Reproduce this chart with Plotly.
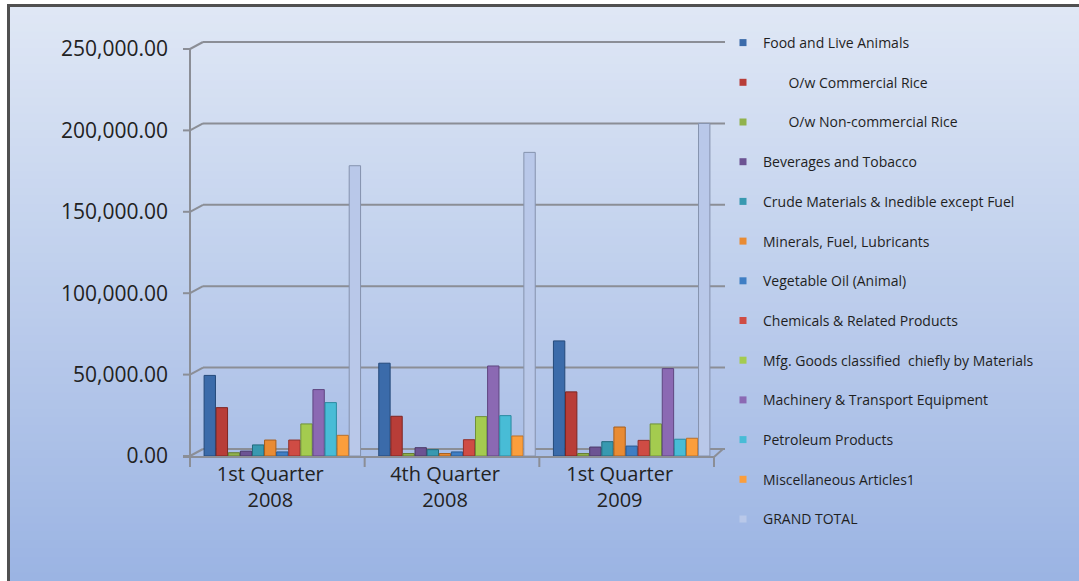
import plotly.graph_objects as go

# ---- data -------------------------------------------------------------
quarters = ["1st Quarter<br>2008", "4th Quarter<br>2008", "1st Quarter<br>2009"]

series_names = [
    "Food and Live Animals",
    "\u00a0\u00a0\u00a0\u00a0\u00a0\u00a0\u00a0O/w Commercial Rice",
    "\u00a0\u00a0\u00a0\u00a0\u00a0\u00a0\u00a0O/w Non-commercial Rice",
    "Beverages and Tobacco",
    "Crude Materials & Inedible except Fuel",
    "Minerals, Fuel, Lubricants",
    "Vegetable Oil (Animal)",
    "Chemicals & Related Products",
    "Mfg. Goods classified  chiefly by Materials",
    "Machinery & Transport Equipment",
    "Petroleum Products",
    "Miscellaneous Articles1",
    "GRAND TOTAL",
]

food_live_animals = [49500, 57000, 70700]
commercial_rice = [29700, 24400, 39400]
non_commercial_rice = [2000, 1500, 1500]
beverages_tobacco = [3000, 5100, 5500]
crude_materials = [6800, 3900, 8800]
minerals_fuel = [9800, 1500, 17800]
vegetable_oil = [2500, 2500, 6100]
chemicals = [9800, 10000, 9600]
mfg_goods = [19700, 24200, 19700]
machinery = [40800, 55300, 53700]
petroleum = [32800, 24800, 10300]
miscellaneous = [12700, 12300, 10900]
grand_total = [178300, 186500, 204300]

y_ticks = [0, 50000, 100000, 150000, 200000, 250000]

series_values = [
    food_live_animals, commercial_rice, non_commercial_rice, beverages_tobacco,
    crude_materials, minerals_fuel, vegetable_oil, chemicals, mfg_goods,
    machinery, petroleum, miscellaneous, grand_total,
]

fill_colors = [
    "#3b6baa", "#b83d38", "#91b24c", "#6c5393", "#3899b0", "#e98b33",
    "#3f7ec4", "#cf4c44", "#a4cb4f", "#8b69b3", "#48bcd6", "#fb9e3c", "#b9c8e9",
]
edge_colors = [
    "#24497a", "#7e2522", "#647c30", "#4a3866", "#226a7c", "#a65e1c",
    "#285a92", "#902f29", "#70903a", "#5f4680", "#2b8aa0", "#b9702a", "#8592ad",
]

# ---- geometry (pixels) ---------------------------------------------------
W, H = 1079, 581
PL, PR, PT, PB = 195, 719, 49, 456
YMAX = 250000
DEPTH_X, DEPTH_Y = 13, 7      # 3-D wall offset
FRONT_SHIFT = -5              # front edge of the floor relative to bars


def fx(px):
    return (px - PL) / (PR - PL)


def fy(py):
    return (PB - py) / (PB - PT)


def vy(v):
    return PB - v / YMAX * (PB - PT)


shapes = []

# chart-area gradient background
top_rgb = (223, 231, 245)
bot_rgb = (155, 180, 227)
y_start, y_end, n_strips = 7, H, 70
for i in range(n_strips):
    t = i / (n_strips - 1)
    c = "rgb(%d,%d,%d)" % tuple(round(a + (b - a) * t) for a, b in zip(top_rgb, bot_rgb))
    ya = y_start + (y_end - y_start) * i / n_strips
    yb = min(y_start + (y_end - y_start) * (i + 1) / n_strips + 1, H)
    shapes.append(dict(type="rect", xref="paper", yref="paper", layer="below",
                       x0=fx(9), x1=fx(W), y0=fy(yb), y1=fy(ya),
                       line=dict(width=0, color=c), fillcolor=c))

# outer frame (top and left edges)
frame = "#505050"
shapes.append(dict(type="line", xref="paper", yref="paper", layer="below",
                   x0=fx(7), x1=fx(W), y0=fy(5.5), y1=fy(5.5),
                   line=dict(color=frame, width=3)))
shapes.append(dict(type="line", xref="paper", yref="paper", layer="below",
                   x0=fx(8.5), x1=fx(8.5), y0=fy(4), y1=fy(H),
                   line=dict(color=frame, width=3)))

grid = "#8b8e96"
ax_x = PL + FRONT_SHIFT          # front-left vertical axis
back_x = ax_x + DEPTH_X
right_x = PR + 6


def seg(x0, y0, x1, y1, w=2, color=grid):
    shapes.append(dict(type="line", xref="paper", yref="paper", layer="below",
                       x0=fx(x0), y0=fy(y0), x1=fx(x1), y1=fy(y1),
                       line=dict(color=color, width=w)))


for v in y_ticks:
    p = vy(v)
    seg(ax_x - 7, p, ax_x, p)                          # tick
    seg(ax_x, p, back_x, p - DEPTH_Y)                  # side wall
    seg(back_x, p - DEPTH_Y, right_x, p - DEPTH_Y)     # back wall

# vertical axis line
seg(ax_x, vy(YMAX), ax_x, PB + 11)

# floor front edge and right side
front_y = PB + 1
front_right = PR + FRONT_SHIFT
seg(ax_x - 7, front_y, front_right, front_y)
seg(front_right, front_y, front_right + 9, front_y - 8)

# category boundary ticks
n_cat = len(quarters)
for k in range(1, n_cat + 1):
    bx = PL + k * (PR - PL) / n_cat + FRONT_SHIFT
    seg(bx, front_y, bx, front_y + 10)

# ---- traces ----------------------------------------------------------------
fig = go.Figure()
for name, vals, fc, ec in zip(series_names, series_values, fill_colors, edge_colors):
    fig.add_trace(go.Bar(
        x=quarters, y=vals, name=name, legendgroup=name, showlegend=False,
        marker=dict(color=fc, line=dict(color=ec, width=1)),
    ))
for name, fc in zip(series_names, fill_colors):
    fig.add_trace(go.Scatter(
        x=[None], y=[None], mode="markers", name=name, legendgroup=name,
        marker=dict(symbol="square", size=7, color=fc),
    ))

fig.update_layout(
    width=W, height=H, autosize=False,
    margin=dict(l=PL, r=W - PR, t=PT, b=H - PB, pad=0),
    paper_bgcolor="white", plot_bgcolor="rgba(0,0,0,0)",
    barmode="group", bargap=0.10, bargroupgap=0.06,
    font=dict(family="Open Sans", color="#222222"),
    shapes=shapes,
    showlegend=True,
    legend=dict(
        x=fx(723), xanchor="left", y=fy(27), yanchor="top",
        bgcolor="rgba(0,0,0,0)", tracegroupgap=18.5, maxheight=0.99,
        font=dict(family="Open Sans", size=14, color="#1f1f1f"),
        itemclick=False, itemdoubleclick=False,
    ),
    xaxis=dict(
        type="category", range=[-0.5, n_cat - 0.5],
        showgrid=False, showline=False, zeroline=False, ticks="",
        tickfont=dict(family="Open Sans", size=20, color="#222222"),
        ticklabelshift=-12, ticklabelstandoff=4,
    ),
    yaxis=dict(
        range=[0, YMAX], tickvals=y_ticks, tickformat=",.2f",
        showgrid=False, showline=False, zeroline=False, ticks="",
        tickfont=dict(family="Open Sans", size=21, color="#222222"),
        ticklabelstandoff=26,
    ),
)

fig.write_html("out.html", config={"displayModeBar": False})
